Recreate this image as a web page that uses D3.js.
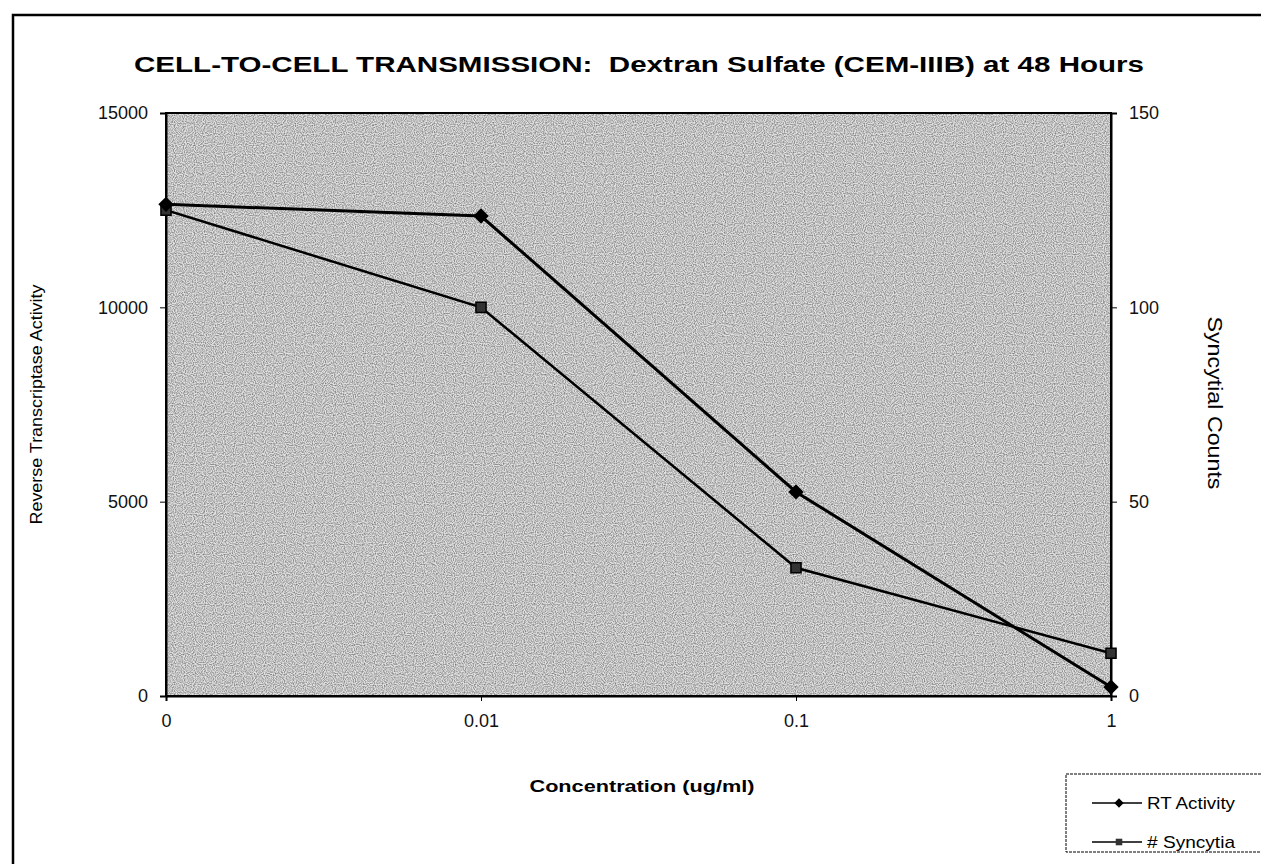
<!DOCTYPE html>
<html>
<head>
<meta charset="utf-8">
<script src="https://cdn.jsdelivr.net/npm/d3@7"></script>
<style>
    body { margin: 0; background: #fff; }
    svg { display: block; font-family: "Liberation Sans", Arial, sans-serif; }
</style>
</head>
<body>
<svg id="chart" width="1261" height="864"></svg>
<script>
// data
var concentrations = ["0", "0.01", "0.1", "1"];
var rtActivity = [12650, 12350, 5250, 230];
var syncytia = [125, 100, 33, 11];
var leftTicks = [0, 5000, 10000, 15000];
var rightTicks = [0, 50, 100, 150];

var svg = d3.select("#chart"),
    width = +svg.attr("width"),
    height = +svg.attr("height");

var plot = {left: 166, right: 1111, top: 113, bottom: 696};

// outer frame of the scanned page
svg.append("rect")
    .attr("x", 13).attr("y", 15)
    .attr("width", width + 20).attr("height", height + 20)
    .attr("fill", "none").attr("stroke", "#000").attr("stroke-width", 2.5);

var x = d3.scalePoint().domain(concentrations).range([plot.left, plot.right]);
var yLeft = d3.scaleLinear().domain([0, 15000]).range([plot.bottom, plot.top]);
var yRight = d3.scaleLinear().domain([0, 150]).range([plot.bottom, plot.top]);

// grey stipple of the plot area
var defs = svg.append("defs");
var filt = defs.append("filter").attr("id", "grain");
filt.append("feTurbulence").attr("type", "fractalNoise").attr("baseFrequency", 0.9).attr("numOctaves", 1).attr("seed", 3);
filt.append("feColorMatrix").attr("type", "matrix")
    .attr("values", "0 0 0 0 0  0 0 0 0 0  0 0 0 0 0  0 0 0 -1.6 1.05");
filt.append("feComposite").attr("in2", "SourceGraphic").attr("operator", "in");

svg.append("rect")
    .attr("x", plot.left).attr("y", plot.top)
    .attr("width", plot.right - plot.left).attr("height", plot.bottom - plot.top)
    .attr("fill", "#e2e2e2");
svg.append("rect")
    .attr("x", plot.left).attr("y", plot.top)
    .attr("width", plot.right - plot.left).attr("height", plot.bottom - plot.top)
    .attr("fill", "#000").attr("filter", "url(#grain)").attr("opacity", 0.6);

svg.append("rect")
    .attr("x", plot.left).attr("y", plot.top)
    .attr("width", plot.right - plot.left).attr("height", plot.bottom - plot.top)
    .attr("fill", "none").attr("stroke", "#000").attr("stroke-width", 2);

// axes
var axisLeft = d3.axisLeft(yLeft).tickValues(leftTicks).tickSize(6).tickPadding(12).tickFormat(d3.format("d"));
var gl = svg.append("g").attr("transform", "translate(" + plot.left + ",0)").call(axisLeft);

var axisRight = d3.axisRight(yRight).tickValues(rightTicks).tickSize(6).tickPadding(12).tickFormat(d3.format("d"));
var gr = svg.append("g").attr("transform", "translate(" + plot.right + ",0)").call(axisRight);

var axisBottom = d3.axisBottom(x).tickSize(5).tickPadding(13);
var gb = svg.append("g").attr("transform", "translate(0," + plot.bottom + ")").call(axisBottom);

[gl, gr, gb].forEach(function (g) {
    g.select(".domain").attr("stroke", "#000").attr("stroke-width", 2);
    g.selectAll(".tick line").attr("stroke", "#000");
    g.selectAll(".tick text").attr("fill", "#111").style("font-size", "18px")
        .style("font-family", "'Liberation Sans', Arial, sans-serif");
});

// series lines
var line = function (scale) {
    return d3.line()
        .x(function (d, i) { return x(concentrations[i]); })
        .y(function (d) { return scale(d); });
};

svg.append("path")
    .attr("d", line(yRight)(syncytia))
    .attr("fill", "none").attr("stroke", "#000").attr("stroke-width", 2.5);

svg.append("path")
    .attr("d", line(yLeft)(rtActivity))
    .attr("fill", "none").attr("stroke", "#000").attr("stroke-width", 3);

var diamond = d3.symbol().type(d3.symbolDiamond2).size(150);
var square = d3.symbol().type(d3.symbolSquare2).size(130);

svg.selectAll(".syn-mark").data(syncytia).enter().append("path")
    .attr("class", "syn-mark")
    .attr("d", square)
    .attr("transform", function (d, i) { return "translate(" + x(concentrations[i]) + "," + yRight(d) + ")"; })
    .attr("fill", "#333").attr("stroke", "#000").attr("stroke-width", 1.5);

svg.selectAll(".rt-mark").data(rtActivity).enter().append("path")
    .attr("class", "rt-mark")
    .attr("d", diamond)
    .attr("transform", function (d, i) { return "translate(" + x(concentrations[i]) + "," + yLeft(d) + ")"; })
    .attr("fill", "#000");

// titles (the scan is a bit stretched, so widths are pinned)
svg.append("text")
    .text("CELL-TO-CELL TRANSMISSION:  Dextran Sulfate (CEM-IIIB) at 48 Hours")
    .attr("x", 639).attr("y", 72)
    .attr("text-anchor", "middle")
    .attr("textLength", 1010).attr("lengthAdjust", "spacingAndGlyphs")
    .style("font-size", "22px").style("font-weight", "bold")
    .style("white-space", "pre");

svg.append("text")
    .text("Reverse Transcriptase Activity")
    .attr("transform", "translate(42," + ((plot.top + plot.bottom) / 2) + ") rotate(-90)")
    .attr("text-anchor", "middle")
    .attr("textLength", 240).attr("lengthAdjust", "spacingAndGlyphs")
    .style("font-size", "17px");

svg.append("text")
    .text("Syncytial Counts")
    .attr("transform", "translate(1208," + (403) + ") rotate(90)")
    .attr("text-anchor", "middle")
    .attr("textLength", 173).attr("lengthAdjust", "spacingAndGlyphs")
    .style("font-size", "20px");

svg.append("text")
    .text("Concentration (ug/ml)")
    .attr("x", 642).attr("y", 792)
    .attr("text-anchor", "middle")
    .attr("textLength", 225).attr("lengthAdjust", "spacingAndGlyphs")
    .style("font-size", "17px").style("font-weight", "bold");

// legend
var legend = svg.append("g").attr("transform", "translate(1066,774)");
legend.append("rect")
    .attr("width", 220).attr("height", 78)
    .attr("fill", "#fff").attr("stroke", "#000").attr("stroke-width", 1)
    .attr("stroke-dasharray", "3,1");

var legendItems = [
    {name: "RT Activity", sym: diamond, fill: "#000"},
    {name: "# Syncytia", sym: square, fill: "#333"}
];
legendItems.forEach(function (d, i) {
    var yy = 29 + i * 39;
    legend.append("line")
        .attr("x1", 26).attr("x2", 76).attr("y1", yy).attr("y2", yy)
        .attr("stroke", "#000").attr("stroke-width", 1.5);
    legend.append("path")
        .attr("d", d.sym.size(55)())
        .attr("transform", "translate(53," + yy + ")")
        .attr("fill", d.fill);
    legend.append("text")
        .text(d.name)
        .attr("x", 81).attr("y", yy + 6)
        .attr("textLength", 88).attr("lengthAdjust", "spacingAndGlyphs")
        .style("font-size", "17px");
});
</script>
</body>
</html>
